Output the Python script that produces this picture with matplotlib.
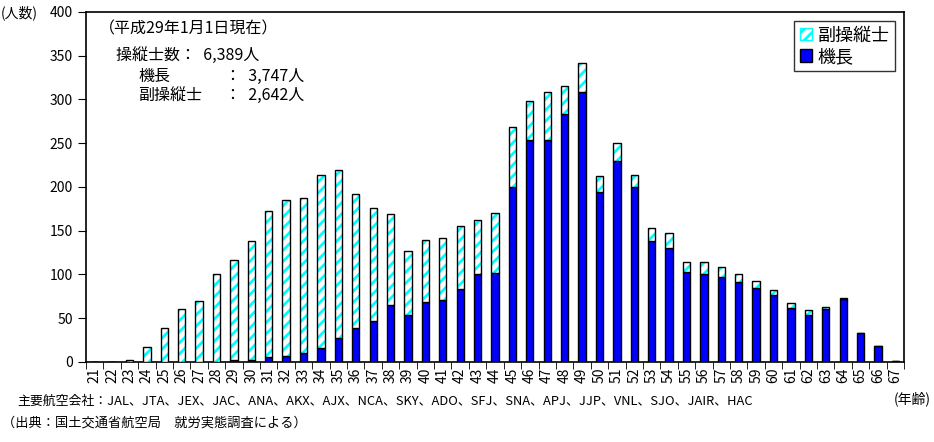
import numpy as np
import matplotlib.pyplot as plt
from matplotlib.patches import Patch

plt.rcParams['font.family'] = ['Noto Sans CJK JP', 'DejaVu Sans']
plt.rcParams['hatch.linewidth'] = 2.0

# 年齢別の操縦士数（平成29年1月1日現在）
ages = list(range(21, 68))
kicho = [0, 0, 0, 0, 0, 0, 0, 0, 2, 2, 6, 7, 10, 16, 27, 39, 47, 65, 54, 68,
         71, 83, 100, 102, 200, 254, 254, 283, 309, 194, 230, 200, 138, 130,
         103, 100, 97, 91, 85, 76, 62, 54, 60, 72, 33, 18, 1]
total = [0, 0, 2, 17, 39, 61, 70, 100, 117, 138, 172, 185, 187, 214, 219, 192,
         176, 169, 127, 139, 142, 155, 162, 170, 268, 298, 309, 315, 342, 213,
         250, 214, 153, 147, 114, 114, 109, 100, 92, 82, 67, 59, 63, 73, 33, 18, 1]
fuku = [t - k for t, k in zip(total, kicho)]

cyan = '#00FFFF'
blue = '#0000FF'

fig = plt.figure(figsize=(9.34, 4.42), dpi=100)
ax = fig.add_axes([0.092, 0.181, 0.876, 0.792])

x = np.arange(len(ages))
w = 0.42
ax.bar(x, kicho, w, color=blue, edgecolor='black', linewidth=1.0, zorder=3)
# 副操縦士：白地にシアンの斜線
ax.bar(x, fuku, w, bottom=kicho, color='white', edgecolor=cyan, hatch='///',
       linewidth=0, zorder=3)
ax.bar(x, fuku, w, bottom=kicho, fill=False, edgecolor='black', linewidth=1.0,
       zorder=4)

ax.set_xlim(-0.5, len(ages) - 0.5)
ax.set_ylim(0, 400)
ax.set_yticks(range(0, 401, 50))
ax.tick_params(axis='y', direction='out', length=6, labelsize=10)
ax.set_xticks(x)
ax.set_xticklabels([str(a) for a in ages], rotation=90, fontsize=10)
ax.tick_params(axis='x', length=0, pad=4)
ax.set_xticks(np.arange(-0.5, len(ages), 1), minor=True)
ax.tick_params(axis='x', which='minor', direction='out', length=5)
for s in ax.spines.values():
    s.set_linewidth(1.2)

# 注記
fs = 11.5
ax.text(0.016, 0.952, '（平成29年1月1日現在）', transform=ax.transAxes,
        fontsize=fs, va='center', ha='left')
ax.text(0.037, 0.876, '操縦士数：  6,389人', transform=ax.transAxes,
        fontsize=fs, va='center', ha='left')
ax.text(0.064, 0.817, '機長', transform=ax.transAxes,
        fontsize=fs, va='center', ha='left')
ax.text(0.170, 0.817, '：  3,747人', transform=ax.transAxes,
        fontsize=fs, va='center', ha='left')
ax.text(0.064, 0.762, '副操縦士', transform=ax.transAxes,
        fontsize=fs, va='center', ha='left')
ax.text(0.170, 0.762, '：  2,642人', transform=ax.transAxes,
        fontsize=fs, va='center', ha='left')

handles = [Patch(facecolor='white', edgecolor=cyan, hatch='///'),
           Patch(facecolor=blue, edgecolor='black')]
leg = ax.legend(handles, ['副操縦士', '機長'], loc='upper right',
                bbox_to_anchor=(0.989, 0.974), borderaxespad=0, fontsize=13,
                frameon=True, fancybox=False, edgecolor='black',
                handlelength=0.7, handleheight=0.7, handletextpad=0.3,
                borderpad=0.3, labelspacing=0.2)
leg.get_frame().set_linewidth(1.0)

fig.text(0.001, 0.972, '(人数)', fontsize=10, va='center', ha='left')
fig.text(0.996, 0.098, '(年齢)', fontsize=10, va='center', ha='right')
fig.text(0.018, 0.093,
         '主要航空会社：JAL、JTA、JEX、JAC、ANA、AKX、AJX、NCA、SKY、ADO、SFJ、SNA、APJ、JJP、VNL、SJO、JAIR、HAC',
         fontsize=9.3, va='center', ha='left')
fig.text(0.002, 0.042, '（出典：国土交通省航空局　就労実態調査による）',
         fontsize=9.5, va='center', ha='left')

fig.savefig('out.png', dpi=100)
